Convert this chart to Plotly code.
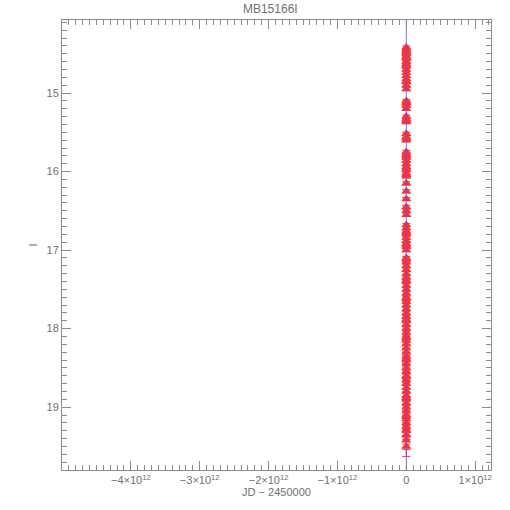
import plotly.graph_objects as go

title = "MB15166I"
x_label = "JD \u2212 2450000"
y_label = "I"

# observation times (JD - 2450000) and I magnitudes with errors
hjd = [7101.2, 7105.4, 7110.3, 7114.8, 7118.1, 7121.6, 7125.2, 7129.9, 7133.4, 7136.7,
       7140.2, 7143.5, 7146.9, 7150.1, 7153.6, 7156.8, 7159.3, 7161.7, 7163.9, 7166.2,
       7168.4, 7170.1, 7171.8, 7173.3, 7174.6, 7175.9, 7177.1, 7178.3, 7179.4, 7180.5,
       7181.4, 7182.3, 7183.1, 7183.9, 7184.6, 7185.2, 7185.8, 7186.3, 7186.8, 7187.2,
       7187.6, 7188.0, 7188.3, 7188.6, 7188.9, 7189.2, 7189.5, 7189.8, 7190.1, 7190.4,
       7190.7, 7191.0, 7191.4, 7191.8, 7192.3, 7192.8, 7193.4, 7194.0, 7194.7, 7195.5,
       7196.4, 7197.4, 7198.5, 7199.7, 7201.0, 7202.4, 7203.9, 7205.5, 7207.2, 7209.0,
       7211.0, 7213.1, 7215.3, 7217.6, 7220.0, 7222.6, 7225.3, 7228.1, 7231.0, 7234.1,
       7237.3, 7240.6, 7244.0, 7247.6, 7251.3, 7255.1, 7259.0, 7263.1, 7267.3, 7271.6,
       7276.0, 7280.5, 7285.1, 7289.8, 7294.6, 7299.5, 7304.5, 7309.6, 7314.8, 7320.1,
       7325.5, 7331.0, 7336.6, 7342.3, 7348.1, 7354.0, 7360.0, 7366.1, 7372.3, 7378.6,
       7385.0, 7391.5, 7398.1, 7404.8, 7411.6, 7418.5, 7425.5, 7432.6, 7439.8, 7447.1]
mag = [19.42, 19.30, 19.25, 19.20, 19.15, 19.10, 19.05, 19.00, 18.95, 18.90,
       18.85, 18.80, 18.75, 18.70, 18.65, 18.60, 18.55, 18.50, 18.45, 18.40,
       18.35, 18.30, 18.25, 18.20, 18.15, 18.10, 18.05, 18.00, 17.95, 17.90,
       17.85, 17.80, 17.75, 17.70, 17.65, 17.60, 17.55, 17.50, 17.45, 17.40,
       17.35, 17.30, 17.25, 17.20, 17.15, 17.10, 17.00, 16.96, 16.92, 16.88,
       16.84, 16.80, 16.76, 16.72, 16.68, 16.55, 16.45, 16.35, 16.25, 16.15,
       16.06, 16.02, 15.98, 15.94, 15.90, 15.86, 15.82, 15.78, 15.75, 15.60,
       15.56, 15.52, 15.37, 15.33, 15.30, 15.20, 15.16, 15.13, 15.10, 14.95,
       14.90, 14.86, 14.82, 14.78, 14.74, 14.70, 14.66, 14.63, 14.60, 14.56,
       14.53, 14.50, 14.48, 14.45, 14.42, 14.47, 14.55, 14.65, 14.85, 15.12,
       15.35, 15.58, 15.80, 15.96, 16.04, 16.50, 16.78, 16.94, 17.12, 17.38,
       17.62, 17.88, 18.12, 18.38, 18.62, 18.88, 19.12, 19.28, 19.35, 19.50]
err = [0.12, 0.11, 0.11, 0.10, 0.10, 0.10, 0.09, 0.09, 0.09, 0.08,
       0.08, 0.08, 0.07, 0.07, 0.07, 0.07, 0.06, 0.06, 0.06, 0.06,
       0.05, 0.05, 0.05, 0.05, 0.05, 0.04, 0.04, 0.04, 0.04, 0.04,
       0.04, 0.03, 0.03, 0.03, 0.03, 0.03, 0.03, 0.03, 0.03, 0.03,
       0.03, 0.03, 0.02, 0.02, 0.02, 0.02, 0.02, 0.02, 0.02, 0.02,
       0.02, 0.02, 0.02, 0.02, 0.02, 0.02, 0.02, 0.02, 0.02, 0.02,
       0.02, 0.02, 0.02, 0.02, 0.02, 0.02, 0.02, 0.02, 0.02, 0.02,
       0.02, 0.02, 0.02, 0.02, 0.02, 0.02, 0.02, 0.02, 0.02, 0.02,
       0.02, 0.02, 0.02, 0.02, 0.02, 0.02, 0.02, 0.02, 0.02, 0.02,
       0.02, 0.02, 0.02, 0.02, 0.02, 0.02, 0.02, 0.02, 0.02, 0.02,
       0.02, 0.02, 0.02, 0.02, 0.02, 0.02, 0.02, 0.02, 0.02, 0.03,
       0.03, 0.04, 0.05, 0.06, 0.07, 0.08, 0.10, 0.11, 0.12, 0.13]

# model / reference line
line_t = [7190.0, 7190.0]
line_mag = [13.5, 20.5]

x_range = [-5.0e12, 1.23e12]
y_range = [19.80, 14.07]
x_tickvals = [-4e12, -3e12, -2e12, -1e12, 0, 1e12]
x_ticktext = ["\u22124\u00d710<sup>12</sup>", "\u22123\u00d710<sup>12</sup>",
              "\u22122\u00d710<sup>12</sup>", "\u22121\u00d710<sup>12</sup>",
              "0", "1\u00d710<sup>12</sup>"]
y_tickvals = [15, 16, 17, 18, 19]

axis_col = "#8c8c8c"
text_col = "#707070"
font_family = "Liberation Sans, Arial, sans-serif"

fig = go.Figure()
fig.add_trace(go.Scatter(
    x=hjd, y=mag, mode="markers",
    marker=dict(symbol="triangle-up", size=9, color="rgb(255,0,0)",
                line=dict(width=0)),
    error_y=dict(type="data", array=err, color="rgb(255,0,0)", thickness=1, width=4),
    opacity=0.8, showlegend=False))
fig.add_trace(go.Scatter(
    x=line_t, y=line_mag, mode="lines",
    line=dict(color="rgba(80,80,255,0.8)", width=1), showlegend=False))

common = dict(showgrid=False, zeroline=False, showline=True, linecolor=axis_col,
              linewidth=1, mirror="ticks", ticks="inside", tickcolor=axis_col,
              ticklen=9, tickwidth=1, automargin=False,
              tickfont=dict(family=font_family, size=11, color=text_col))

fig.update_xaxes(range=x_range, tickvals=x_tickvals, ticktext=x_ticktext,
                 minor=dict(ticks="inside", ticklen=5, tickcolor=axis_col, dtick=1e11,
                            tick0=0, showgrid=False),
                 title=dict(text=x_label, font=dict(family=font_family, size=11, color=text_col),
                            standoff=0),
                 **common)
fig.update_yaxes(range=y_range, tickvals=y_tickvals,
                 minor=dict(ticks="inside", ticklen=5, tickcolor=axis_col, dtick=0.1,
                            tick0=0, showgrid=False),
                 title=dict(text=y_label, font=dict(family=font_family, size=11, color=text_col),
                            standoff=6),
                 **common)

fig.update_layout(
    width=510, height=510,
    margin=dict(l=62, r=19, t=20, b=40, autoexpand=False),
    paper_bgcolor="white", plot_bgcolor="white",
    font=dict(family=font_family, size=11, color=text_col),
    title=dict(text=title, x=0.53, xanchor="center", y=0.982, yanchor="middle",
               automargin=False,
               font=dict(family=font_family, size=12, color=text_col)),
)

fig.write_html("out.html", config={"displayModeBar": False},
               post_script="document.body.style.margin='0';")
